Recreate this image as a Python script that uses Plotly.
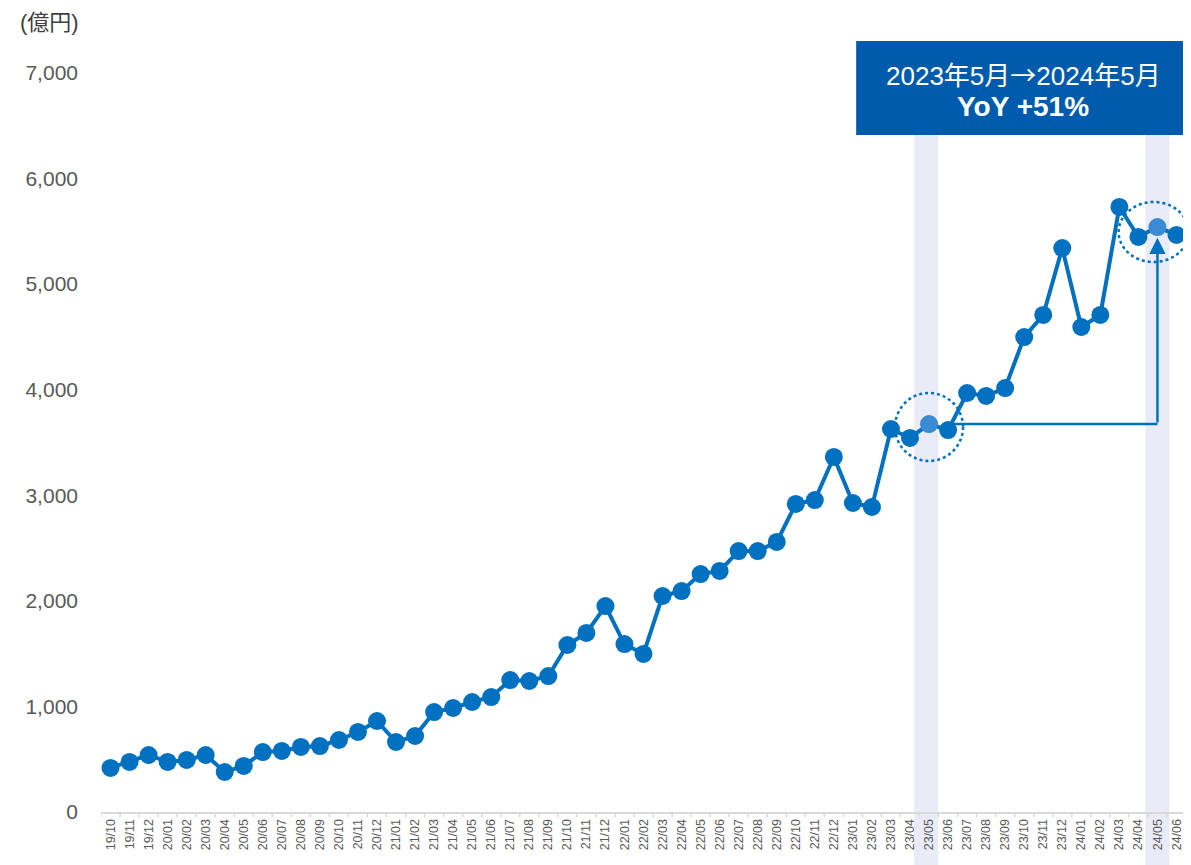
import plotly.graph_objects as go

months = ["19/10", "19/11", "19/12",
          "20/01", "20/02", "20/03", "20/04", "20/05", "20/06", "20/07", "20/08", "20/09", "20/10", "20/11", "20/12",
          "21/01", "21/02", "21/03", "21/04", "21/05", "21/06", "21/07", "21/08", "21/09", "21/10", "21/11", "21/12",
          "22/01", "22/02", "22/03", "22/04", "22/05", "22/06", "22/07", "22/08", "22/09", "22/10", "22/11", "22/12",
          "23/01", "23/02", "23/03", "23/04", "23/05", "23/06", "23/07", "23/08", "23/09", "23/10", "23/11", "23/12",
          "24/01", "24/02", "24/03", "24/04", "24/05", "24/06"]

values = [417, 474, 540,
          474, 493, 540, 379, 436, 568, 578, 616, 625, 682, 758, 862,
          663, 720, 947, 985, 1042, 1089, 1250, 1241, 1288, 1582, 1696, 1951,
          1591, 1497, 2046, 2093, 2254, 2283, 2472, 2472, 2558, 2918, 2955, 3363,
          2927, 2889, 3628, 3543, 3675, 3618, 3969, 3941, 4016, 4499, 4708, 5342,
          4594, 4708, 5731, 5447, 5541, 5466]

highlight_months = ["23/05", "24/05"]
y_ticks = [0, 1000, 2000, 3000, 4000, 5000, 6000, 7000]
y_tick_labels = ["0", "1,000", "2,000", "3,000", "4,000", "5,000", "6,000", "7,000"]
unit_label = "(億円)"
box_line1_a = "2023年5月"
box_arrow = "→"
box_line1_b = "2024年5月"
box_line2 = "YoY +51%"

BLUE = "#0070C0"
LIGHT = "#3A8BD3"
BAND = "#E9ECF7"
BOX = "#005BAC"
GRAY = "#595959"
FONT = "Liberation Sans, Arial, Noto Sans CJK JP, sans-serif"

idx = list(range(len(months)))
marker_colors = [LIGHT if m in highlight_months else BLUE for m in months]
h0 = months.index(highlight_months[0])
h1 = months.index(highlight_months[1])

fig = go.Figure()
fig.add_trace(go.Scatter(
    x=idx, y=values, mode="lines+markers",
    line=dict(color=BLUE, width=4),
    marker=dict(size=18, color=marker_colors),
    cliponaxis=False, hoverinfo="skip", showlegend=False,
))

shapes = []
for h, off in ((h0, -0.15), (h1, 0.0)):
    shapes.append(dict(type="rect", xref="x", yref="paper", x0=h + off - 0.63, x1=h + off + 0.63,
                       y0=-0.08, y1=0.93, fillcolor=BAND, line=dict(width=0), layer="below"))
shapes.append(dict(type="line", xref="x", yref="y", x0=h0 + 1, x1=h1,
                   y0=values[h0], y1=values[h0], line=dict(color=BLUE, width=2.5), layer="below"))
shapes.append(dict(type="circle", xref="x", yref="y", xsizemode="pixel", ysizemode="pixel",
                   xanchor=h0, yanchor=3647, x0=-34, x1=34, y0=-34, y1=34,
                   line=dict(color=BLUE, width=2.5, dash="dot")))
shapes.append(dict(type="circle", xref="x", yref="y", xsizemode="pixel", ysizemode="pixel",
                   xanchor=h1 - 0.2, yanchor=5494, x0=-35, x1=35, y0=-30, y1=30,
                   line=dict(color=BLUE, width=2.5, dash="dot")))
shapes.append(dict(type="rect", xref="paper", yref="paper", x0=0.696, x1=1.004,
                   y0=0.916, y1=1.0433, fillcolor=BOX, line=dict(width=0), layer="above"))

line1 = (box_line1_a + '<span style="font-family:Noto Sans CJK JP">' + box_arrow + "</span>" + box_line1_b)

annotations = [
    dict(x=h1, y=5440, ax=h1, ay=values[h0], xref="x", yref="y", axref="x", ayref="y",
         showarrow=True, arrowhead=2, arrowsize=1.3, arrowwidth=2.5, arrowcolor=BLUE, text=""),
    dict(x=0.85, y=1.0, xref="paper", yref="paper", text=line1, showarrow=False,
         font=dict(family=FONT, size=26, color="white"), xanchor="center", yanchor="middle"),
    dict(x=0.85, y=0.955, xref="paper", yref="paper", text="<b>" + box_line2 + "</b>", showarrow=False,
         font=dict(family=FONT, size=28, color="white"), xanchor="center", yanchor="middle"),
    dict(x=-0.0765, y=1.069, xref="paper", yref="paper", text=unit_label, showarrow=False,
         font=dict(family=FONT, size=22, color="#404040"), xanchor="left", yanchor="middle"),
]

fig.update_layout(
    width=1183, height=857,
    margin=dict(l=93, r=5, t=65, b=53),
    paper_bgcolor="white", plot_bgcolor="white",
    font=dict(family=FONT, color=GRAY),
    shapes=shapes, annotations=annotations,
    xaxis=dict(
        range=[-0.5, len(months) - 0.5],
        tickmode="array", tickvals=idx, ticktext=months,
        tickangle=-90, tickfont=dict(size=12.5, color=GRAY),
        showgrid=False, zeroline=False,
        showline=True, linecolor="#D9D9D9", linewidth=2,
        ticks="", fixedrange=True,
    ),
    yaxis=dict(
        range=[0, 7000], tickmode="array", tickvals=y_ticks, ticktext=y_tick_labels,
        tickfont=dict(size=21, color=GRAY), showgrid=False, zeroline=False,
        showline=False, ticklabelstandoff=22, fixedrange=True,
    ),
)
for i in range(len(months) + 1):
    fig.add_shape(type="line", xref="x", yref="paper", x0=i - 0.5, x1=i - 0.5, y0=0, y1=-0.007,
                  line=dict(color="#D9D9D9", width=1.5))

fig.write_html("out.html")
